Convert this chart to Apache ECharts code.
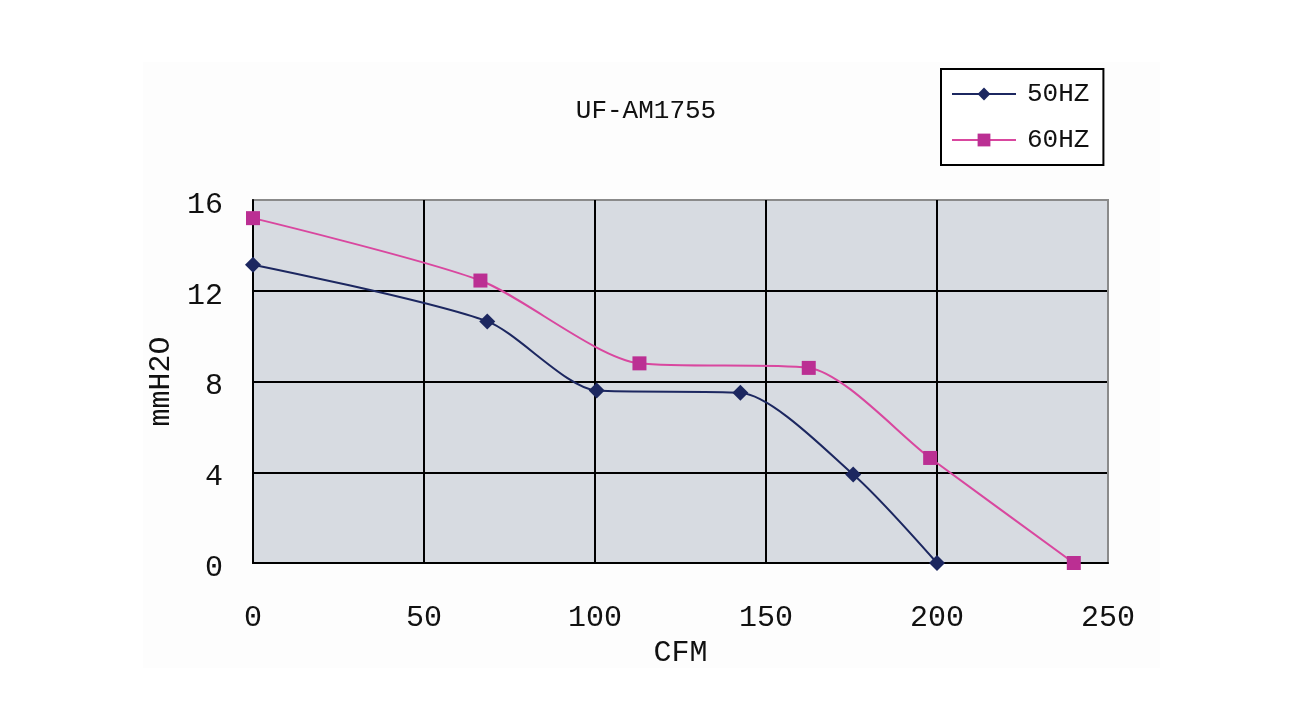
<!DOCTYPE html>
<html>
<head>
<meta charset="utf-8">
<title>UF-AM1755</title>
<script src="https://cdn.jsdelivr.net/npm/echarts@6/dist/echarts.min.js"></script>
<style>
  html, body { margin: 0; padding: 0; background: #ffffff; }
  #chart { width: 1305px; height: 725px; }
</style>
</head>
<body>
<div id="chart"></div>
<script>
// fan curve, airflow (CFM) vs static pressure (mmH2O)
var xTicks = [0, 50, 100, 150, 200, 250];
var yTicks = [0, 4, 8, 12, 16];

var hz50 = [[0, 13.15], [68.5, 10.65], [100.5, 7.6], [142.5, 7.5], [175.5, 3.9], [200, 0]];
var hz60 = [[0, 15.2], [66.5, 12.45], [113, 8.8], [162.5, 8.6], [198, 4.63], [240, 0]];

var font = '"Liberation Mono", monospace';

var chart = echarts.init(document.getElementById('chart'));
chart.setOption({
    backgroundColor: '#ffffff',
    animation: false,
    graphic: [{
        type: 'rect',
        z: -10,
        shape: { x: 143, y: 62, width: 1017, height: 606 },
        style: { fill: '#fdfdfd' }
    }],
    title: {
        text: 'UF-AM1755',
        left: 641,
        top: 93,
        textAlign: 'center',
        textStyle: { fontFamily: font, fontSize: 26, fontWeight: 'normal', color: '#111' }
    },
    legend: {
        orient: 'vertical',
        left: 941,
        top: 69,
        padding: [12, 14, 12, 10],
        itemGap: 20,
        itemWidth: 64,
        itemHeight: 16,
        borderColor: '#000',
        borderWidth: 2,
        backgroundColor: '#fff',
        textStyle: { fontFamily: font, fontSize: 26, color: '#111', padding: [0, 0, 0, 6] },
        data: ['50HZ', '60HZ']
    },
    grid: {
        left: 253,
        right: 197,
        top: 200,
        bottom: 162,
        show: true,
        backgroundColor: '#d7dbe1',
        borderColor: '#8a8a8a',
        borderWidth: 2
    },
    xAxis: {
        type: 'value',
        min: xTicks[0],
        max: xTicks[xTicks.length - 1],
        interval: 50,
        name: 'CFM',
        nameLocation: 'middle',
        nameGap: 65,
        nameTextStyle: { fontFamily: font, fontSize: 30, color: '#111' },
        axisLine: { show: true, lineStyle: { color: '#000', width: 2 } },
        axisTick: { show: false },
        axisLabel: { margin: 40, fontFamily: font, fontSize: 30, color: '#111' },
        splitLine: { show: true, lineStyle: { color: ['#000', '#000', '#000', '#000', '#000', '#8a8a8a'], width: 2 } }
    },
    yAxis: {
        type: 'value',
        min: yTicks[0],
        max: yTicks[yTicks.length - 1],
        interval: 4,
        name: 'mmH2O',
        nameLocation: 'middle',
        nameGap: 68,
        nameTextStyle: { fontFamily: font, fontSize: 30, color: '#111' },
        axisLine: { show: true, lineStyle: { color: '#000', width: 2 } },
        axisTick: { show: false },
        axisLabel: { margin: 30, verticalAlign: 'top', lineHeight: 10, fontFamily: font, fontSize: 30, color: '#111' },
        splitLine: { show: true, lineStyle: { color: ['#000', '#000', '#000', '#000', '#8a8a8a'], width: 2 } }
    },
    series: [{
        name: '50HZ',
        type: 'line',
        data: hz50,
        smooth: 0.25,
        symbol: 'diamond',
        symbolSize: 16,
        itemStyle: { color: '#1c2760' },
        lineStyle: { color: '#1c2760', width: 2 }
    }, {
        name: '60HZ',
        type: 'line',
        data: hz60,
        smooth: 0.25,
        symbol: 'rect',
        symbolSize: 14,
        itemStyle: { color: '#bb2f93' },
        lineStyle: { color: '#d9479f', width: 2 }
    }]
});
</script>
</body>
</html>
